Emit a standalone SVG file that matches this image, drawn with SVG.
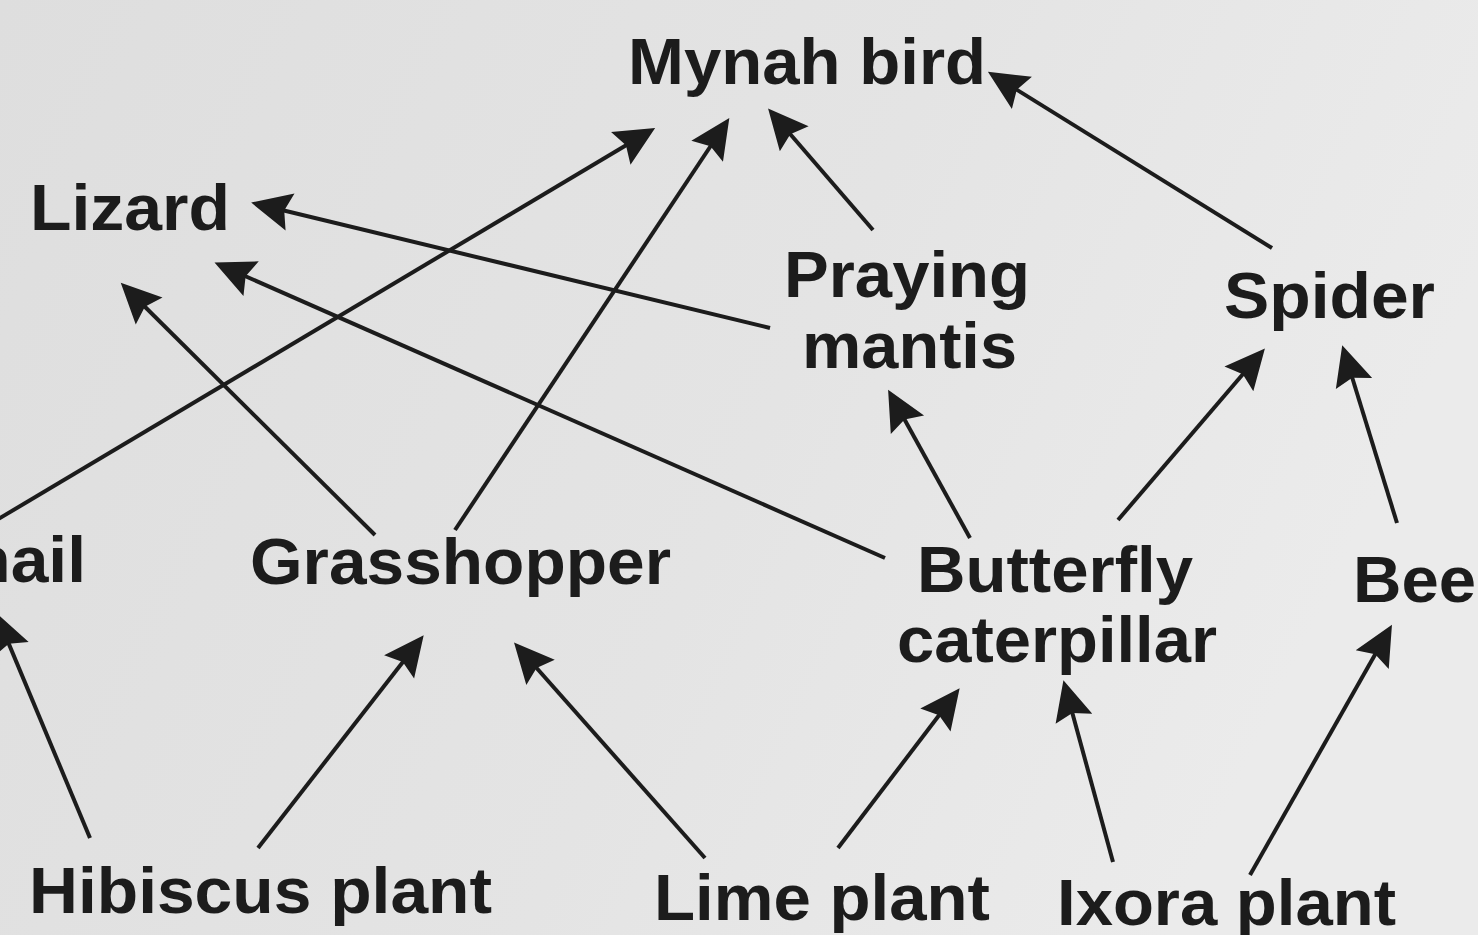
<svg xmlns="http://www.w3.org/2000/svg" width="1478" height="935" viewBox="0 0 1478 935">
  <defs>
    <linearGradient id="bg" x1="0" y1="0" x2="1" y2="0.3">
      <stop offset="0" stop-color="#dedede"/>
      <stop offset="0.6" stop-color="#e4e4e4"/>
      <stop offset="1" stop-color="#ebebeb"/>
    </linearGradient>
    <marker id="ah" markerUnits="userSpaceOnUse" markerWidth="80" markerHeight="80" refX="0" refY="0" orient="auto" overflow="visible">
      <path d="M6,0 L-34,-19 L-28,0 L-34,19 Z" fill="#1c1c1c"/>
    </marker>
  </defs>
  <style>
    .lbl { font-family: "Liberation Sans", Arial, sans-serif; font-weight: bold; font-size: 64px; fill: #1c1c1c; }
    .edge { stroke: #1c1c1c; stroke-width: 4; fill: none; marker-end: url(#ah); }
  </style>
  <rect x="0" y="0" width="1478" height="935" fill="url(#bg)"/>

  <g id="connectors">
    <line class="edge" x1="1272" y1="248" x2="993" y2="75"/>
    <line class="edge" x1="873" y1="230" x2="772" y2="113"/>
    <line class="edge" x1="455" y1="530" x2="726" y2="123"/>
    <line class="edge" x1="-10" y1="524" x2="650" y2="131"/>
    <line class="edge" x1="770" y1="328" x2="257" y2="204"/>
    <line class="edge" x1="885" y1="558" x2="220" y2="265"/>
    <line class="edge" x1="375" y1="535" x2="125" y2="287"/>
    <line class="edge" x1="970" y1="538" x2="891" y2="395"/>
    <line class="edge" x1="1118" y1="520" x2="1261" y2="353"/>
    <line class="edge" x1="1397" y1="523" x2="1344" y2="351"/>
    <line class="edge" x1="90" y1="838" x2="-2" y2="618"/>
    <line class="edge" x1="258" y1="848" x2="420" y2="640"/>
    <line class="edge" x1="705" y1="858" x2="518" y2="647"/>
    <line class="edge" x1="838" y1="848" x2="956" y2="693"/>
    <line class="edge" x1="1113" y1="862" x2="1065" y2="686"/>
    <line class="edge" x1="1250" y1="875" x2="1389" y2="630"/>
  </g>

  <g id="mynah"><text class="lbl" x="628" y="84" textLength="358" lengthAdjust="spacingAndGlyphs">Mynah bird</text></g>
  <g id="lizard"><text class="lbl" x="30" y="230" textLength="200" lengthAdjust="spacingAndGlyphs">Lizard</text></g>
  <g id="mantis">
    <text class="lbl" x="784" y="297" textLength="246" lengthAdjust="spacingAndGlyphs">Praying</text>
    <text class="lbl" x="802" y="368" textLength="215" lengthAdjust="spacingAndGlyphs">mantis</text>
  </g>
  <g id="spider"><text class="lbl" x="1224" y="318" textLength="211" lengthAdjust="spacingAndGlyphs">Spider</text></g>
  <g id="snail"><text class="lbl" x="-76" y="582" textLength="162" lengthAdjust="spacingAndGlyphs">Snail</text></g>
  <g id="grasshopper"><text class="lbl" x="250" y="584" textLength="421" lengthAdjust="spacingAndGlyphs">Grasshopper</text></g>
  <g id="caterpillar">
    <text class="lbl" x="917" y="592" textLength="276" lengthAdjust="spacingAndGlyphs">Butterfly</text>
    <text class="lbl" x="897" y="662" textLength="320" lengthAdjust="spacingAndGlyphs">caterpillar</text>
  </g>
  <g id="bee"><text class="lbl" x="1353" y="602" textLength="123" lengthAdjust="spacingAndGlyphs">Bee</text></g>
  <g id="hibiscus"><text class="lbl" x="29" y="913" textLength="463" lengthAdjust="spacingAndGlyphs">Hibiscus plant</text></g>
  <g id="lime"><text class="lbl" x="654" y="920" textLength="336" lengthAdjust="spacingAndGlyphs">Lime plant</text></g>
  <g id="ixora"><text class="lbl" x="1057" y="925" textLength="339" lengthAdjust="spacingAndGlyphs">Ixora plant</text></g>
</svg>
